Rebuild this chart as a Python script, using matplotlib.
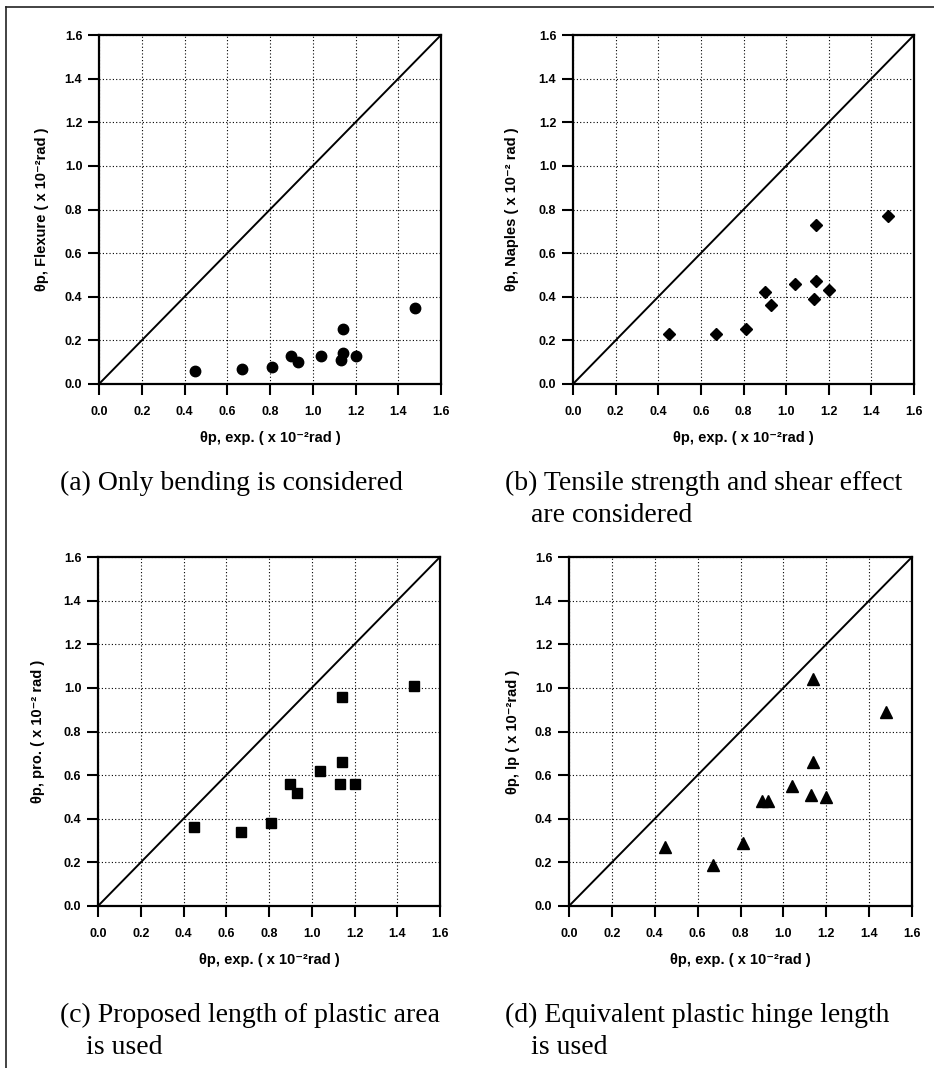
import matplotlib
matplotlib.use('Agg')
import matplotlib.pyplot as plt
from matplotlib.lines import Line2D

# experimental plastic rotation (x 10^-2 rad), same for all four panels
theta_exp = [0.45, 0.67, 0.81, 0.90, 0.93, 1.04, 1.13, 1.14, 1.14, 1.20, 1.48]

theta_flexure = [0.06, 0.07, 0.08, 0.13, 0.10, 0.13, 0.11, 0.14, 0.25, 0.13, 0.35]
theta_naples = [0.23, 0.23, 0.25, 0.42, 0.36, 0.46, 0.39, 0.47, 0.73, 0.43, 0.77]
theta_pro = [0.36, 0.34, 0.38, 0.56, 0.52, 0.62, 0.56, 0.66, 0.96, 0.56, 1.01]
theta_lp = [0.27, 0.19, 0.29, 0.48, 0.48, 0.55, 0.51, 0.66, 1.04, 0.50, 0.89]

ticks = [0.0, 0.2, 0.4, 0.6, 0.8, 1.0, 1.2, 1.4, 1.6]
tick_labels = ['0.0', '0.2', '0.4', '0.6', '0.8', '1.0', '1.2', '1.4', '1.6']

ylabels = ['θp, Flexure ( x 10⁻²rad )',
           'θp, Naples ( x 10⁻² rad )',
           'θp, pro. ( x 10⁻² rad )',
           'θp, lp ( x 10⁻²rad )']
xlabel = 'θp, exp. ( x 10⁻²rad )'
captions = [['(a) Only bending is considered'],
            ['(b) Tensile strength and shear effect', 'are considered'],
            ['(c) Proposed length of plastic area', 'is used'],
            ['(d) Equivalent plastic hinge length', 'is used']]

sans = ['Liberation Sans', 'DejaVu Sans']
serif = ['Liberation Serif', 'DejaVu Serif']

W, H = 934, 1068
fig = plt.figure(figsize=(W / 100, H / 100), dpi=100)

# panel boxes in pixels: left, top, right, bottom
boxes = [(99, 35, 441, 384), (573, 35, 914, 384),
         (98, 557, 440, 906), (569, 557, 912, 906)]
series = [theta_flexure, theta_naples, theta_pro, theta_lp]
markers = [('o', 7.5), ('D', 6.5), ('s', 7.5), ('^', 9)]
ylab_x = [42, 512, 38, 513]
cap_x = [60, 505, 60, 505]
cap_y = [99, 99, 109, 109]

for i in range(4):
    l, t, r, b = boxes[i]
    ax = fig.add_axes([l / W, 1 - b / H, (r - l) / W, (b - t) / H])
    ax.plot([0, 1.6], [0, 1.6], color='black', lw=1.4, zorder=2)
    m, ms = markers[i]
    ax.plot(theta_exp, series[i], linestyle='none', marker=m, ms=ms,
            color='black', zorder=3)
    ax.set_xlim(0, 1.6)
    ax.set_ylim(0, 1.6)
    ax.set_xticks(ticks)
    ax.set_yticks(ticks)
    ax.set_xticklabels(tick_labels, fontfamily=sans, fontweight='bold', fontsize=9)
    ax.set_yticklabels(tick_labels, fontfamily=sans, fontweight='bold', fontsize=9)
    ax.tick_params(axis='both', direction='out', length=8, width=1.5)
    ax.tick_params(axis='x', pad=8)
    ax.tick_params(axis='y', pad=4)
    ax.grid(True, color='black', linestyle=(0, (1, 2)), linewidth=0.8)
    ax.set_axisbelow(True)
    for s in ax.spines.values():
        s.set_linewidth(1.6)

    # axis labels
    fig.text(ylab_x[i] / W, 1 - (t + b) / 2 / H, ylabels[i], rotation=90,
             ha='center', va='center', fontsize=10.5, fontweight='bold',
             family=sans)
    fig.text((l + r) / 2 / W, 1 - (b + 54) / H, xlabel, ha='center',
             va='center', fontsize=10.5, fontweight='bold', family=sans)

    # captions
    lines = captions[i]
    fig.text(cap_x[i] / W, 1 - (b + cap_y[i]) / H, lines[0], ha='left',
             va='center', fontsize=20, family=serif)
    if len(lines) > 1:
        fig.text((cap_x[i] + 26) / W, 1 - (b + cap_y[i] + 32) / H, lines[1],
                 ha='left', va='center', fontsize=20, family=serif)

# outer frame (top and left edges only)
fig.add_artist(Line2D([6 / W, 1], [1 - 7 / H, 1 - 7 / H], color='#222222',
                      lw=1.2, transform=fig.transFigure))
fig.add_artist(Line2D([6 / W, 6 / W], [0, 1 - 7 / H], color='#222222',
                      lw=1.2, transform=fig.transFigure))

fig.savefig('out.png', dpi=100)
